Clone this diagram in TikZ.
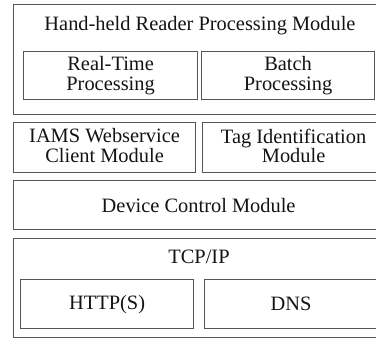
\documentclass[tikz,border=0pt]{standalone}
\usepackage{fontspec}
\setmainfont{Liberation Serif}
\definecolor{edge}{HTML}{555555}
\newcommand{\twol}[2]{\begin{tabular}{@{}c@{}}#1\\[-1pt]#2\end{tabular}}
\tikzset{
  x=1pt, y=-1pt,
  box/.style={draw=edge, line width=1.2pt, fill=white, inner sep=0pt, anchor=north west},
  lbl/.style={font=\fontsize{20.4}{20.4}\selectfont, inner sep=0pt, text=black!92}
}
\newcommand{\bx}[5]{\node[box, minimum width={#4-#2}, minimum height={#5-#3}] (#1) at (#2,#3) {};}
\begin{document}
\begin{tikzpicture}
\useasboundingbox (0,0) rectangle (376,339);
\clip (0,0) rectangle (376,339);
% row 1
\bx{hh}{13}{4}{386}{114}
\node[lbl] (hht) at (200,26) {Hand-held Reader Processing Module};
\bx{rt}{23}{51}{197}{99}
\node[lbl] at ([yshift=-1]rt.center) {\twol{Real-Time}{Processing}};
\bx{bp}{201}{51}{374}{99}
\node[lbl] at ([yshift=-1]bp.center) {\twol{Batch}{Processing}};
% row 2
\bx{iams}{13}{122}{195}{172}
\node[lbl] at ([yshift=-1]iams.center) {\twol{IAMS Webservice}{Client Module}};
\bx{tag}{202}{122}{384}{172}
\node[lbl] at ([yshift=-1]tag.center) {\twol{Tag Identification}{Module}};
% row 3
\bx{dcm}{13}{180}{383}{229}
\node[lbl] at (dcm.center) {Device Control Module};
% row 4
\bx{tcp}{13}{238}{385}{337}
\node[lbl] (tcpt) at (199,257) {TCP/IP};
\bx{http}{20}{279}{193}{328}
\node[lbl] at (http.center) {HTTP(S)};
\bx{dns}{204}{279}{377}{328}
\node[lbl] at (dns.center) {DNS};
\end{tikzpicture}
\end{document}
